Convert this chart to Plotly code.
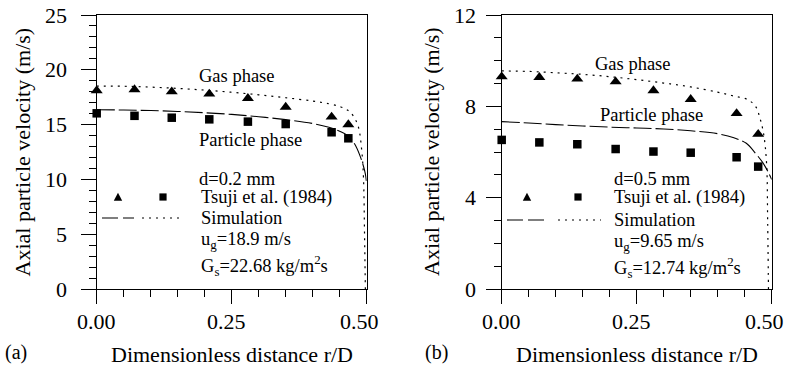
import plotly.graph_objects as go

W, H = 787, 375

# ---------------- data: panel (a) d=0.2 mm ----------------
r_exp_a = [0.0, 0.07, 0.139, 0.2085, 0.28, 0.35, 0.435, 0.466]
gas_exp_a = [18.1, 18.2, 18.0, 17.8, 17.4, 16.6, 15.7, 15.0]
part_exp_a = [16.03, 15.8, 15.63, 15.48, 15.27, 15.05, 14.3, 13.75]

r_sim_gas_a = [0, 0.05, 0.10, 0.15, 0.20, 0.25, 0.30, 0.35, 0.40, 0.43, 0.45,
               0.465, 0.475, 0.4845, 0.4907, 0.494, 0.496, 0.4975]
sim_gas_a = [18.52, 18.5, 18.42, 18.3, 18.15, 17.95, 17.72, 17.45, 17.15, 16.9,
             16.65, 16.3, 15.8, 14.8, 12.7, 10.2, 5.0, 0.0]
r_sim_part_a = [0, 0.05, 0.10, 0.15, 0.20, 0.25, 0.30, 0.35, 0.40, 0.43, 0.45,
                0.465, 0.478, 0.488, 0.494, 0.4975, 0.5]
sim_part_a = [16.35, 16.33, 16.28, 16.2, 16.08, 15.93, 15.72, 15.45, 15.1, 14.75,
              14.4, 14.0, 13.2, 12.1, 11.2, 10.5, 9.6]

# ---------------- data: panel (b) d=0.5 mm ----------------
r_exp_b = [0.0, 0.0697, 0.14, 0.211, 0.281, 0.35, 0.435, 0.475]
gas_exp_b = [9.30, 9.27, 9.2, 9.08, 8.69, 8.31, 7.69, 6.78]
part_exp_b = [6.53, 6.42, 6.34, 6.13, 6.02, 5.97, 5.77, 5.36]

r_sim_gas_b = [0, 0.05, 0.10, 0.15, 0.20, 0.25, 0.30, 0.35, 0.40, 0.43, 0.455,
               0.47, 0.478, 0.485, 0.4905, 0.4925, 0.494]
sim_gas_b = [9.55, 9.53, 9.47, 9.4, 9.3, 9.17, 9.02, 8.85, 8.62, 8.45, 8.3,
             8.0, 7.5, 6.8, 5.5, 3.0, 0.0]
r_sim_part_b = [0, 0.05, 0.10, 0.15, 0.20, 0.25, 0.30, 0.35, 0.40, 0.43, 0.453,
                0.47, 0.48, 0.488, 0.495, 0.5]
sim_part_b = [7.33, 7.27, 7.2, 7.14, 7.09, 7.05, 7.01, 6.93, 6.8, 6.62, 6.38,
              5.94, 5.65, 5.36, 5.05, 4.8]

x_tickvals = [0.0, 0.25, 0.5]
x_ticktext = ["0.00", "0.25", "0.50"]
y_tickvals_a = [0, 5, 10, 15, 20, 25]
y_tickvals_b = [0, 4, 8, 12]

x_title = "Dimensionless distance r/D"
y_title = "Axial particle velocity (m/s)"
labels_a = {"gas": "Gas phase", "part": "Particle phase", "d": "d=0.2 mm",
            "exp": "Tsuji et al. (1984)", "sim": "Simulation",
            "ug": "u<sub>g</sub>=18.9 m/s", "gs": "G<sub>s</sub>=22.68 kg/m<sup>2</sup>s",
            "tag": "(a)"}
labels_b = {"gas": "Gas phase", "part": "Particle phase", "d": "d=0.5 mm",
            "exp": "Tsuji et al. (1984)", "sim": "Simulation",
            "ug": "u<sub>g</sub>=9.65 m/s", "gs": "G<sub>s</sub>=12.74 kg/m<sup>2</sup>s",
            "tag": "(b)"}

FONT = "Liberation Serif"
DOT = "2px,5px"
DASH = "18px,4px"

def px(x):
    return x / W

def py(y):
    return 1 - y / H

fig = go.Figure()

def add_panel(xa, ya, r_exp, gas_exp, part_exp, rg, sg, rp, sp):
    fig.add_trace(go.Scatter(x=rg, y=sg, mode="lines", xaxis=xa, yaxis=ya,
                             line=dict(color="black", width=1.2, dash=DOT),
                             line_shape="spline", showlegend=False))
    fig.add_trace(go.Scatter(x=rp, y=sp, mode="lines", xaxis=xa, yaxis=ya,
                             line=dict(color="black", width=1.1, dash=DASH),
                             line_shape="spline", showlegend=False))
    fig.add_trace(go.Scatter(x=r_exp, y=gas_exp, mode="markers", xaxis=xa, yaxis=ya,
                             marker=dict(symbol="triangle-up", size=10.5, color="black"),
                             cliponaxis=False, showlegend=False))
    fig.add_trace(go.Scatter(x=r_exp, y=part_exp, mode="markers", xaxis=xa, yaxis=ya,
                             marker=dict(symbol="square", size=8.5, color="black"),
                             cliponaxis=False, showlegend=False))

add_panel("x", "y", r_exp_a, gas_exp_a, part_exp_a, r_sim_gas_a, sim_gas_a, r_sim_part_a, sim_part_a)
add_panel("x2", "y2", r_exp_b, gas_exp_b, part_exp_b, r_sim_gas_b, sim_gas_b, r_sim_part_b, sim_part_b)

axis_common = dict(showline=True, linecolor="black", linewidth=1, mirror=True,
                   ticks="outside", tickcolor="black", tickwidth=1, showgrid=False,
                   zeroline=False, automargin=False, showticklabels=False)

xa_common = dict(axis_common, range=[0, 0.5], tickvals=x_tickvals,
                 ticklen=14, minor=dict(ticks="outside", dtick=0.05, ticklen=7,
                                        tickcolor="black", tickwidth=1, showgrid=False))

fig.update_layout(
    width=W, height=H, margin=dict(l=0, r=0, t=0, b=0, autoexpand=False),
    paper_bgcolor="white", plot_bgcolor="white",
    font=dict(family=FONT, color="black"),
    xaxis=dict(xa_common, domain=[px(96.7), px(366.7)], anchor="y"),
    xaxis2=dict(xa_common, domain=[px(501.7), px(771.7)], anchor="y2"),
    yaxis=dict(axis_common, domain=[py(289), py(15)], anchor="x", range=[0, 25],
               tickvals=y_tickvals_a, ticklen=15,
               minor=dict(ticks="outside", dtick=1, ticklen=7, tickcolor="black",
                          tickwidth=1, showgrid=False)),
    yaxis2=dict(axis_common, domain=[py(289), py(15)], anchor="x2", range=[0, 12],
                tickvals=y_tickvals_b, ticklen=15,
                minor=dict(ticks="outside", dtick=1, ticklen=7, tickcolor="black",
                           tickwidth=1, showgrid=False)),
    showlegend=False,
)

ann = []
shapes = []

def text(x, y, s, size=18.5, xanchor="left", angle=0):
    ann.append(dict(x=px(x), y=py(y), xref="paper", yref="paper", text=s,
                    showarrow=False, xanchor=xanchor, yanchor="middle",
                    textangle=angle, font=dict(family=FONT, size=size, color="black")))

# tick labels placed through the axes' own scales
x_label_shift = [0, -5, -7]

def tick_labels(xref, yref, yvals, ylabel_right):
    for v, t, sh in zip(x_tickvals, x_ticktext, x_label_shift):
        ann.append(dict(x=v, xref=xref, y=py(321), yref="paper", text=t, showarrow=False,
                        xanchor="center", yanchor="middle", xshift=sh,
                        font=dict(family=FONT, size=22, color="black")))
    for v in yvals:
        ann.append(dict(x=px(ylabel_right), xref="paper", y=v, yref=yref, text=str(v),
                        showarrow=False, xanchor="right", yanchor="middle",
                        font=dict(family=FONT, size=22, color="black")))

tick_labels("x", "y", y_tickvals_a, 69)
tick_labels("x2", "y2", y_tickvals_b, 478)

def panel_text(lab, xg, yg, xp, yp, xd, yd, xl, yrows, tri_x, sq_x, dash_seg, dot_seg,
               xtitle_c, ytitle_x, tag_x):
    text(xg, yg, lab["gas"])
    text(xp, yp, lab["part"])
    text(xd, yd, lab["d"])
    text(xl, yrows[0], lab["exp"])
    text(xl, yrows[1], lab["sim"])
    text(xl, yrows[2], lab["ug"])
    text(xl, yrows[3], lab["gs"])
    text(xtitle_c, 354, x_title, size=22, xanchor="center")
    text(ytitle_x, 152, y_title, size=22, xanchor="center", angle=-90)
    text(tag_x, 352, lab["tag"], size=20)
    # legend swatches
    ym = yrows[0]
    s = 4.2
    shapes.append(dict(type="path", xref="paper", yref="paper",
                       path=f"M {px(tri_x - s)} {py(ym + s * 0.9)} L {px(tri_x + s)} {py(ym + s * 0.9)} "
                            f"L {px(tri_x)} {py(ym - s * 1.0)} Z",
                       fillcolor="black", line=dict(width=0)))
    shapes.append(dict(type="rect", xref="paper", yref="paper",
                       x0=px(sq_x - 3.6), x1=px(sq_x + 3.6), y0=py(ym + 3.6), y1=py(ym - 3.6),
                       fillcolor="black", line=dict(width=0)))
    yl = yrows[1]
    shapes.append(dict(type="line", xref="paper", yref="paper",
                       x0=px(dash_seg[0]), x1=px(dash_seg[1]), y0=py(yl), y1=py(yl),
                       line=dict(color="black", width=1.1, dash="16px,5px")))
    shapes.append(dict(type="line", xref="paper", yref="paper",
                       x0=px(dot_seg[0]), x1=px(dot_seg[1]), y0=py(yl), y1=py(yl),
                       line=dict(color="black", width=1.2, dash=DOT)))

panel_text(labels_a, 197, 76, 197, 140, 197, 179, 199, [197, 218, 240, 265],
           118, 163, (102, 134), (142, 184), 231.7, 21.5, 3)
panel_text(labels_b, 593, 64, 598, 115, 612, 179, 612, [197, 220, 242, 267],
           527, 578, (507, 545), (558, 601), 636.7, 431, 423)

fig.update_layout(annotations=ann, shapes=shapes)
fig.write_html("out.html")
